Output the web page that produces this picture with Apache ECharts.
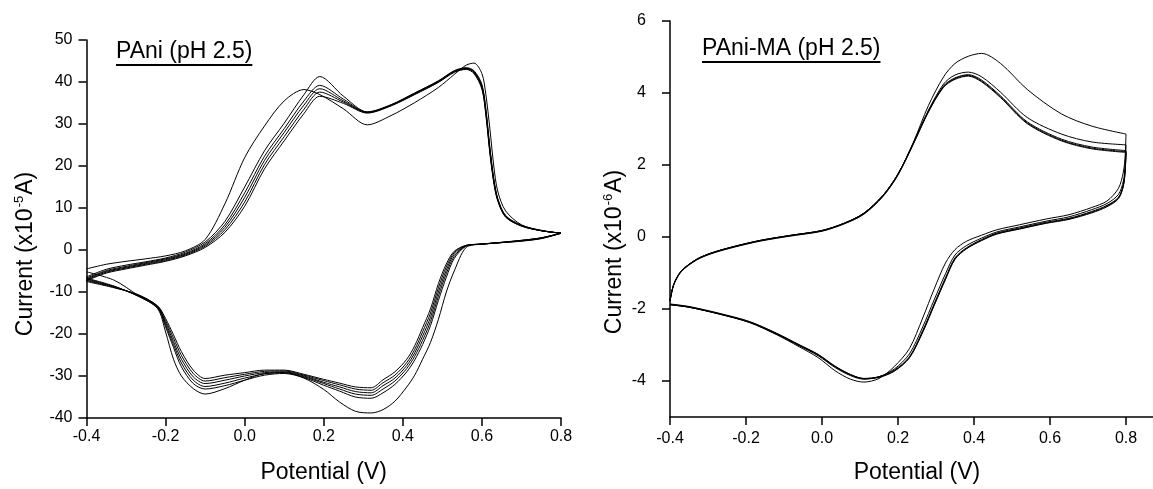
<!DOCTYPE html>
<html><head><meta charset="utf-8">
<script src="https://cdn.jsdelivr.net/npm/echarts@6/dist/echarts.min.js"></script>
<style>html,body{margin:0;padding:0;overflow:hidden;background:#fff}#c{width:1170px;height:489px}</style>
</head><body><div id="c"></div>
<script>
// ---------- Left panel: PAni (pH 2.5), current in 1e-5 A ----------
const leftFwdX = [-0.4,-0.35,-0.3,-0.25,-0.2,-0.15,-0.1,-0.05,0.0,0.05,0.1,0.15,0.19,0.25,0.31,0.37,0.43,0.49,0.53,0.56,0.58,0.6,0.61,0.62,0.63,0.64,0.66,0.7,0.75,0.8];
const leftFwdY = [
  [-4.5,-3.4,-2.7,-2.1,-1.4,-0.2,2.5,11.0,22.0,29.5,35.5,38.2,37.0,33.6,29.8,32.0,35.1,38.7,41.8,44.0,44.5,42.0,37.0,29.0,20.0,14.0,9.3,6.0,4.7,4.0],
  [-6.4,-4.6,-3.6,-2.8,-1.9,-0.5,1.9,6.8,15.0,23.6,30.2,37.0,41.3,36.6,32.9,34.6,37.4,40.3,42.7,43.4,42.7,39.4,33.6,24.6,17.0,12.3,8.2,5.9,4.6,4.0],
  [-6.7,-4.9,-3.9,-3.0,-2.1,-0.8,1.5,6.0,13.6,22.3,28.9,35.5,39.2,35.9,32.8,34.5,37.3,40.2,42.6,43.3,42.5,39.1,33.2,24.2,16.7,12.1,8.1,5.8,4.6,4.0],
  [-6.9,-5.1,-4.1,-3.2,-2.3,-1.0,1.2,5.4,12.5,21.3,28.0,34.5,38.4,35.5,32.8,34.5,37.2,40.1,42.5,43.2,42.4,38.9,32.9,23.9,16.5,12.0,8.0,5.8,4.6,4.0],
  [-7.1,-5.3,-4.3,-3.4,-2.5,-1.2,0.9,4.8,11.4,20.3,27.0,33.5,37.6,35.2,32.7,34.4,37.1,40.0,42.4,43.1,42.2,38.6,32.5,23.5,16.3,11.9,7.9,5.7,4.6,4.0],
  [-7.3,-5.5,-4.5,-3.6,-2.7,-1.4,0.6,4.2,10.4,19.3,26.0,32.5,36.6,34.9,32.6,34.3,37.0,39.9,42.3,43.0,42.0,38.3,32.1,23.1,16.0,11.7,7.8,5.7,4.6,4.0]
];
const leftRevX = [0.8,0.75,0.7,0.65,0.6,0.56,0.53,0.51,0.49,0.47,0.45,0.43,0.41,0.38,0.35,0.32,0.28,0.24,0.2,0.15,0.1,0.05,0.0,-0.05,-0.1,-0.13,-0.16,-0.18,-0.2,-0.22,-0.27,-0.33,-0.4];
const leftRevY = [
  [4.0,2.9,2.3,1.8,1.4,0.6,-5.0,-10.0,-16.5,-22.0,-26.0,-29.8,-32.6,-36.0,-38.0,-38.8,-38.4,-36.2,-33.2,-30.5,-29.2,-29.4,-31.0,-33.0,-34.3,-33.0,-30.0,-26.0,-19.5,-14.0,-10.8,-7.2,-5.2],
  [4.0,2.9,2.3,1.85,1.4,0.9,-2.0,-6.5,-12.0,-18.0,-22.5,-26.2,-29.0,-32.0,-34.0,-35.3,-35.0,-33.6,-32.2,-30.4,-29.4,-29.8,-31.0,-32.3,-33.1,-31.8,-27.8,-23.2,-18.3,-13.8,-11.0,-8.6,-6.7],
  [4.0,2.85,2.25,1.8,1.4,1.0,-1.5,-5.6,-11.0,-17.0,-21.5,-25.3,-28.2,-31.2,-33.1,-34.6,-34.3,-33.1,-31.8,-30.2,-29.2,-29.5,-30.5,-31.7,-32.5,-31.0,-26.9,-22.5,-17.8,-13.6,-10.9,-8.7,-6.9],
  [4.0,2.8,2.2,1.8,1.4,1.0,-1.0,-4.8,-10.0,-16.0,-20.5,-24.5,-27.5,-30.5,-32.3,-34.0,-33.7,-32.6,-31.5,-30.0,-29.0,-29.2,-30.0,-31.0,-31.8,-30.2,-26.0,-21.8,-17.3,-13.5,-10.8,-8.8,-7.1],
  [4.0,2.75,2.15,1.75,1.4,1.1,-0.6,-4.0,-9.0,-15.0,-19.5,-23.7,-26.8,-29.8,-31.6,-33.4,-33.1,-32.1,-31.1,-29.8,-28.8,-28.9,-29.6,-30.4,-31.2,-29.4,-25.1,-21.0,-16.8,-13.4,-10.7,-8.9,-7.3],
  [4.0,2.7,2.1,1.75,1.4,1.1,-0.3,-3.3,-8.0,-14.0,-18.5,-22.8,-26.0,-29.0,-30.9,-32.8,-32.6,-31.7,-30.8,-29.6,-28.6,-28.6,-29.2,-29.8,-30.6,-28.6,-24.2,-20.2,-16.3,-13.3,-10.6,-9.0,-7.5]
];

// ---------- Right panel: PAni-MA (pH 2.5), current in 1e-6 A ----------
const rightFwdX = [-0.4,-0.39,-0.37,-0.33,-0.29,-0.23,-0.16,-0.08,0.0,0.06,0.11,0.16,0.2,0.24,0.28,0.32,0.35,0.385,0.42,0.47,0.54,0.63,0.71,0.8];
const rightFwdY = [
  [-1.77,-1.31,-0.94,-0.62,-0.44,-0.26,-0.09,0.05,0.18,0.39,0.66,1.15,1.75,2.62,3.65,4.45,4.82,5.02,5.1,4.82,4.1,3.42,3.08,2.86],
  [-1.77,-1.31,-0.94,-0.62,-0.44,-0.26,-0.09,0.05,0.18,0.39,0.66,1.15,1.75,2.6,3.52,4.25,4.5,4.58,4.45,4.02,3.32,2.86,2.64,2.56],
  [-1.77,-1.31,-0.94,-0.62,-0.44,-0.26,-0.09,0.05,0.18,0.39,0.66,1.15,1.75,2.6,3.5,4.2,4.42,4.51,4.36,3.92,3.2,2.72,2.5,2.4],
  [-1.78,-1.32,-0.95,-0.63,-0.45,-0.27,-0.10,0.04,0.17,0.38,0.64,1.13,1.73,2.58,3.48,4.18,4.40,4.49,4.33,3.89,3.17,2.69,2.47,2.37],
  [-1.79,-1.33,-0.96,-0.64,-0.46,-0.28,-0.11,0.03,0.16,0.37,0.63,1.12,1.72,2.57,3.47,4.16,4.38,4.47,4.31,3.87,3.15,2.67,2.45,2.35]
];
const rightRevX = [0.8,0.798,0.793,0.78,0.75,0.71,0.65,0.59,0.52,0.46,0.42,0.38,0.35,0.325,0.295,0.265,0.23,0.19,0.15,0.11,0.075,0.035,-0.01,-0.06,-0.12,-0.19,-0.27,-0.35,-0.4];
const rightRevY = [
  [2.86,2.3,1.8,1.35,1.0,0.82,0.62,0.5,0.34,0.2,0.05,-0.12,-0.35,-0.72,-1.45,-2.25,-3.1,-3.6,-3.93,-4.03,-3.95,-3.72,-3.35,-3.05,-2.71,-2.38,-2.14,-1.95,-1.88],
  [2.56,2.0,1.55,1.18,0.93,0.76,0.56,0.44,0.28,0.14,-0.03,-0.24,-0.5,-1.02,-1.75,-2.5,-3.25,-3.67,-3.88,-3.95,-3.85,-3.63,-3.3,-3.02,-2.7,-2.37,-2.14,-1.95,-1.88],
  [2.4,1.9,1.45,1.1,0.88,0.71,0.52,0.41,0.25,0.11,-0.07,-0.30,-0.58,-1.13,-1.86,-2.6,-3.33,-3.70,-3.88,-3.93,-3.83,-3.61,-3.28,-3.01,-2.69,-2.37,-2.14,-1.95,-1.88],
  [2.37,1.88,1.43,1.08,0.86,0.69,0.5,0.39,0.23,0.09,-0.09,-0.32,-0.6,-1.16,-1.89,-2.63,-3.35,-3.72,-3.89,-3.93,-3.82,-3.6,-3.27,-3.0,-2.68,-2.36,-2.13,-1.94,-1.87],
  [2.35,1.86,1.41,1.06,0.84,0.67,0.49,0.38,0.22,0.08,-0.1,-0.33,-0.62,-1.18,-1.91,-2.65,-3.36,-3.73,-3.90,-3.94,-3.82,-3.59,-3.26,-2.99,-2.67,-2.35,-2.12,-1.93,-1.86]
];
const rightYTicks = [-4, -2, 0, 2, 4, 6];

const leftTitle = 'PAni (pH 2.5)';
const rightTitle = 'PAni-MA (pH 2.5)';

const FONT = 'Liberation Sans, Arial, Helvetica, sans-serif';
const BLACK = '#000';

function pairs(xs, ys) { return xs.map((x, i) => [x, ys[i]]); }
function fmt1(v) { return Math.abs(v) < 1e-9 ? '0.0' : v.toFixed(1); }

function lineSeries(data, idx) {
  return {
    type: 'line', xAxisIndex: idx, yAxisIndex: idx, data: data,
    showSymbol: false, symbol: 'none', smooth: 0.3, silent: true,
    lineStyle: { color: BLACK, width: 1 }, z: 2
  };
}

const series = [];
leftFwdY.forEach(ys => series.push(lineSeries(pairs(leftFwdX, ys), 0)));
leftRevY.forEach(ys => series.push(lineSeries(pairs(leftRevX, ys), 0)));
rightFwdY.forEach(ys => series.push(lineSeries(pairs(rightFwdX, ys), 1)));
rightRevY.forEach(ys => series.push(lineSeries(pairs(rightRevX, ys), 1)));

const axisLine = { onZero: false, lineStyle: { color: BLACK, width: 1.5 } };
const axisTick = { show: true, inside: false, length: 8, lineStyle: { color: BLACK, width: 1.5 } };
const tickFont = { color: BLACK, fontSize: 16, fontFamily: FONT };
const nameFont = { color: BLACK, fontSize: 23, fontFamily: FONT };
const richName = {
  n: { fontSize: 23, fontFamily: FONT, color: BLACK, lineHeight: 26 },
  s: { fontSize: 13, fontFamily: FONT, color: BLACK, verticalAlign: 'top', lineHeight: 26, padding: [0, 1, 0, 1] }
};

// measure text widths for underlines
const mctx = document.createElement('canvas').getContext('2d');
mctx.font = '23px ' + FONT;
const wL = mctx.measureText(leftTitle).width;
const wR = mctx.measureText(rightTitle).width;

const chart = echarts.init(document.getElementById('c'), null, { renderer: 'canvas' });
chart.setOption({
  animation: false,
  backgroundColor: '#fff',
  title: [
    { text: leftTitle, left: 116, top: 40, padding: 0, textStyle: { fontSize: 23, fontWeight: 'normal', color: BLACK, fontFamily: FONT } },
    { text: rightTitle, left: 702, top: 37, padding: 0, textStyle: { fontSize: 23, fontWeight: 'normal', color: BLACK, fontFamily: FONT } }
  ],
  graphic: [
    { type: 'line', silent: true, shape: { x1: 116, y1: 65, x2: 116 + wL, y2: 65 }, style: { stroke: BLACK, lineWidth: 2 } },
    { type: 'line', silent: true, shape: { x1: 702, y1: 62, x2: 702 + wR, y2: 62 }, style: { stroke: BLACK, lineWidth: 2 } }
  ],
  grid: [
    { left: 86.5, top: 40, width: 474.5, height: 383.3, containLabel: false },
    { left: 670, top: 21, width: 494, height: 399.7, containLabel: false }
  ],
  xAxis: [
    { type: 'value', gridIndex: 0, min: -0.4, max: 0.8, interval: 0.2,
      axisLine: axisLine, axisTick: axisTick, splitLine: { show: false },
      axisLabel: Object.assign({ margin: 11, formatter: fmt1 }, tickFont),
      name: 'Potential (V)', nameLocation: 'middle', nameGap: 43, nameTextStyle: nameFont },
    { type: 'value', gridIndex: 1, min: -0.4, max: 0.9, interval: 0.2,
      axisLine: axisLine, axisTick: axisTick, splitLine: { show: false },
      axisLabel: Object.assign({ margin: 14, formatter: fmt1, showMaxLabel: false }, tickFont),
      name: 'Potential (V)', nameLocation: 'middle', nameGap: 44, nameTextStyle: nameFont }
  ],
  yAxis: [
    { type: 'value', gridIndex: 0, min: -40, max: 50, interval: 10,
      axisLine: axisLine, axisTick: axisTick, splitLine: { show: false },
      axisLabel: Object.assign({ margin: 14 }, tickFont),
      name: '{n|Current (x10}{s|-5}{n|A)}', nameLocation: 'middle', nameRotate: 90, nameGap: 48,
      nameTextStyle: { rich: richName, padding: [0, 50, 0, 0] } },
    { type: 'value', gridIndex: 1, min: -5, max: 6,
      axisLine: axisLine, splitLine: { show: false },
      axisTick: Object.assign({ customValues: rightYTicks }, axisTick),
      axisLabel: Object.assign({ margin: 24, customValues: rightYTicks }, tickFont),
      name: '{n|Current (x10}{s|-6}{n|A)}', nameLocation: 'middle', nameRotate: 90, nameGap: 42,
      nameTextStyle: { rich: richName, padding: [0, 66, 0, 0] } }
  ],
  series: series
});
</script>
</body></html>
